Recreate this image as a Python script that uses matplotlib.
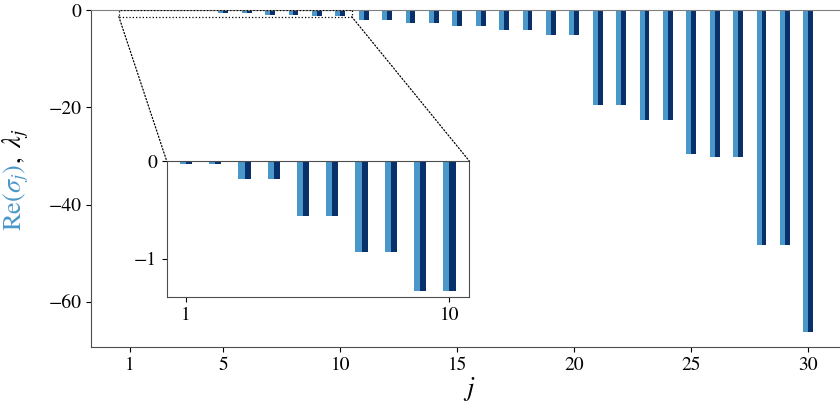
import numpy as np
import matplotlib
matplotlib.use("Agg")
import matplotlib.pyplot as plt
from matplotlib.patches import Rectangle, ConnectionPatch

plt.rcParams['font.family'] = ['STIXGeneral', 'Liberation Serif', 'DejaVu Serif']
plt.rcParams['mathtext.fontset'] = 'stix'
plt.rcParams['font.size'] = 14

j = np.arange(1, 31)
re_sigma = [-0.031, -0.031, -0.186, -0.186, -0.564, -0.564, -0.935, -0.935,
            -1.327, -1.327, -2.0, -2.0, -2.6, -2.6, -3.23, -3.23, -4.05, -4.05,
            -5.08, -5.08, -19.5, -19.5, -22.6, -22.6, -29.6, -30.2, -30.2,
            -48.4, -48.4, -66.2]
lam = list(re_sigma)

light = '#4a97c9'
dark = '#08306b'
w = 0.21
spine_col = '0.3'

fig = plt.figure(figsize=(8.4, 4.15), dpi=100)
ax = fig.add_axes([91 / 840, 68 / 415, 756 / 840, 337 / 415])

ax.bar(j, re_sigma, width=-w, align='edge', color=light)
ax.bar(j, lam, width=w, align='edge', color=dark)
ax.set_xlim(-0.65, 31.65)
ax.set_ylim(-69.3, 0)
ax.set_xticks([1, 5, 10, 15, 20, 25, 30])
ax.set_yticks([0, -20, -40, -60])
ax.set_xlabel('$j$', fontsize=19, labelpad=1)
for s in ax.spines.values():
    s.set_color(spine_col)
ax.spines['top'].set_color('0.5')
ax.tick_params(colors='black', labelsize=14)

# inset with the first ten
axins = fig.add_axes([166.7 / 840, 118.3 / 415, 302.6 / 840, 135.7 / 415])
axins.bar(j[:10], re_sigma[:10], width=-w, align='edge', color=light)
axins.bar(j[:10], lam[:10], width=w, align='edge', color=dark)
axins.set_xlim(0.34, 10.68)
axins.set_ylim(-1.39, 0)
axins.set_xticks([1, 10])
axins.set_yticks([0, -1])
for s in axins.spines.values():
    s.set_color(spine_col)
axins.tick_params(labelsize=14)

# zoom box and connectors
x0, x1, y0 = 0.54, 10.49, -1.38
ax.add_patch(Rectangle((x0, y0), x1 - x0, -y0, fill=False, ls=':',
                       lw=0.9, ec='black', zorder=5))
for xa, xb in [(x0, 0), (x1, 1)]:
    con = ConnectionPatch(xyA=(xa, y0), coordsA=ax.transData,
                          xyB=(xb, 1), coordsB=axins.transAxes,
                          ls=':', lw=0.9, color='black')
    fig.add_artist(con)

# two-coloured y label
t1 = fig.text(16 / 840, 1 - 231 / 415, r'$\mathrm{Re}(\sigma_j)$', color=light,
              fontsize=19, rotation=90, ha='center', va='bottom')
fig.canvas.draw()
bb = t1.get_window_extent(fig.canvas.get_renderer())
top = fig.transFigure.inverted().transform((0, bb.y1))[1]
fig.text(16 / 840, top, r'$,\ \lambda_j$', color='black',
         fontsize=19, rotation=90, ha='center', va='bottom')

fig.savefig('out.png', dpi=100)
